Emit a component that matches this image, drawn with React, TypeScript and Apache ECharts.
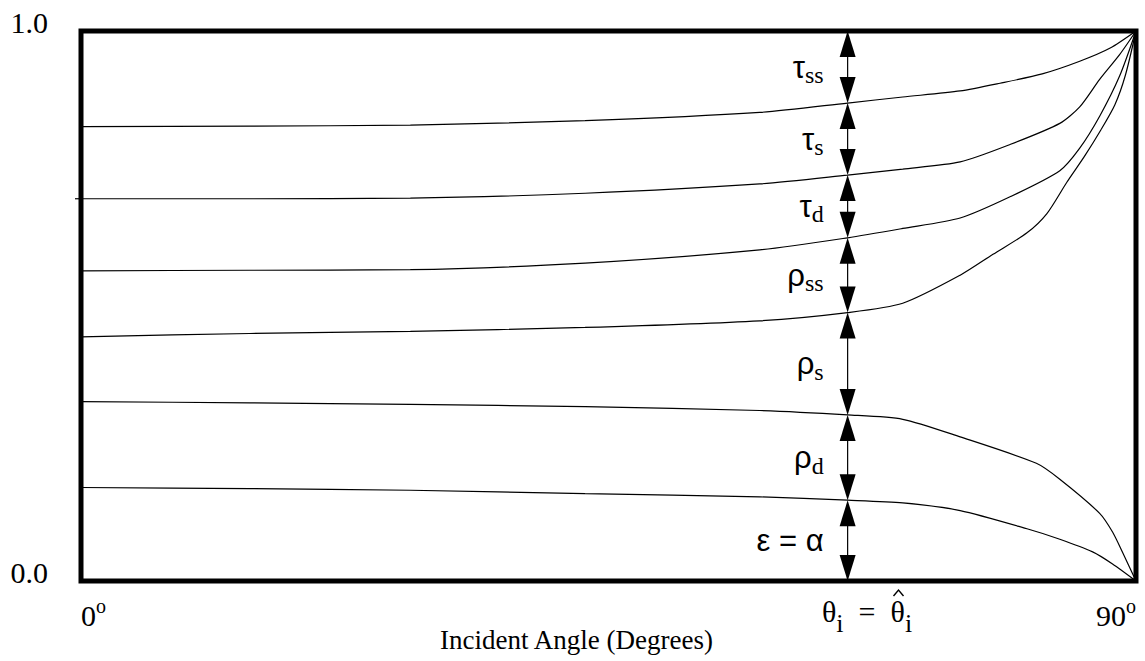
import React, { useEffect, useRef } from "react";
import * as echarts from "echarts";

// Boundary curves, [incident angle (deg), fraction]
const lineTauSS = [[0, 0.826], [14.4, 0.827], [28.1, 0.829], [43.0, 0.837], [57.9, 0.852], [65.4, 0.869], [70.1, 0.880], [75.0, 0.891], [78.4, 0.905], [82.0, 0.922], [85.2, 0.945], [87.8, 0.969], [90, 1]];
const lineTauS = [[0, 0.695], [14.4, 0.695], [28.1, 0.696], [43.0, 0.705], [57.9, 0.722], [65.4, 0.738], [70.1, 0.749], [75.0, 0.762], [79.3, 0.794], [83.5, 0.832], [85.2, 0.862], [86.9, 0.912], [88.6, 0.957], [90, 1]];
const lineTauD = [[0, 0.564], [14.4, 0.565], [28.1, 0.566], [43.0, 0.578], [57.9, 0.602], [65.4, 0.624], [70.1, 0.641], [75.0, 0.660], [79.3, 0.699], [83.5, 0.746], [85.2, 0.787], [86.9, 0.845], [88.6, 0.918], [90, 1]];
const lineRhoSS = [[0, 0.444], [14.4, 0.450], [28.1, 0.454], [43.0, 0.461], [57.9, 0.473], [65.4, 0.488], [70.1, 0.505], [75.0, 0.556], [77.8, 0.594], [80.7, 0.633], [82.4, 0.668], [84.1, 0.725], [85.6, 0.772], [87.0, 0.820], [88.2, 0.866], [89.1, 0.920], [90, 1]];
const lineRhoS = [[0, 0.326], [14.4, 0.324], [28.1, 0.321], [43.0, 0.317], [57.9, 0.310], [65.4, 0.302], [70.1, 0.294], [75.0, 0.262], [81.5, 0.214], [83.5, 0.185], [86.9, 0.123], [88.0, 0.089], [88.9, 0.050], [90, 0]];
const lineRhoD = [[0, 0.170], [14.4, 0.168], [28.1, 0.165], [43.0, 0.159], [57.9, 0.153], [65.4, 0.147], [70.1, 0.142], [75.0, 0.128], [80.7, 0.095], [83.5, 0.076], [86.3, 0.053], [88.0, 0.031], [90, 0]];

const curves = [lineTauSS, lineTauS, lineTauD, lineRhoSS, lineRhoS, lineRhoD];

// Arrow column
const arrowAngle = 65.4;
const bandEdges = [1, 0.869, 0.738, 0.624, 0.488, 0.302, 0.147, 0];
const bandLabels = [
  "{m|τ}{s|ss}",
  "{m|τ}{s|s}",
  "{m|τ}{s|d}",
  "{m|ρ}{s|ss}",
  "{m|ρ}{s|s}",
  "{m|ρ}{s|d}",
  "{m|ε = α}",
];

const yTicks = [0, 1];
const xTicks = [0, 90];
const strayTickValue = 0.695;

const SERIF = "'Liberation Serif', 'Times New Roman', serif";
const SANS = "'Liberation Sans', Arial, sans-serif";

export default function App() {
  const ref = useRef<HTMLDivElement>(null);
  useEffect(() => {
    document.body.style.margin = "0";
    document.body.style.overflow = "hidden";
    const chart = echarts.init(ref.current!, null, { renderer: "svg" });
    const bandData = bandLabels.map((_, i) => [arrowAngle, bandEdges[i], bandEdges[i + 1], i]);
    const labelRich = {
      m: { fontFamily: SANS, fontSize: 31, color: "#000" },
      s: { fontFamily: SERIF, fontSize: 24, color: "#000", padding: [16, 0, 0, 0] },
    };
    chart.setOption({
      animation: false,
      backgroundColor: "#fff",
      grid: {
        left: 81,
        top: 31,
        right: 9,
        bottom: 80,
        show: true,
        borderWidth: 5,
        borderColor: "#000",
        backgroundColor: "transparent",
      },
      xAxis: {
        type: "value",
        min: xTicks[0],
        max: xTicks[1],
        interval: xTicks[1] - xTicks[0],
        axisLine: { show: false },
        axisTick: { show: false },
        splitLine: { show: false },
        axisLabel: {
          margin: 15,
          alignMinLabel: "left",
          alignMaxLabel: "right",
          formatter: (v: number) => `{n|${v}}{s|o}`,
          rich: {
            n: { fontFamily: SERIF, fontSize: 30, color: "#000" },
            s: { fontFamily: SERIF, fontSize: 20, color: "#000", padding: [0, 0, 18, 0] },
          },
        },
      },
      yAxis: {
        type: "value",
        min: yTicks[0],
        max: yTicks[1],
        interval: 1,
        axisLine: { show: false },
        axisTick: { show: false },
        splitLine: { show: false },
        axisLabel: {
          margin: 33,
          fontFamily: SERIF,
          fontSize: 30,
          color: "#000",
          verticalAlign: "bottom",
          lineHeight: 18,
          formatter: (v: number) => v.toFixed(1),
        },
      },
      series: [
        ...curves.map((c) => ({
          type: "line",
          data: c,
          showSymbol: false,
          smooth: 0.25,
          lineStyle: { color: "#000", width: 1.2 },
          silent: true,
        })),
        {
          type: "custom",
          data: bandData,
          silent: true,
          z: 5,
          renderItem: (params: any, api: any) => {
            const x = api.value(0);
            const hi = api.value(1);
            const lo = api.value(2);
            const idx = api.value(3);
            const top = api.coord([x, hi]);
            const bot = api.coord([x, lo]);
            const AH = 26;
            const AW = 8;
            return {
              type: "group",
              children: [
                {
                  type: "line",
                  shape: { x1: top[0], y1: top[1] + AH - 2, x2: bot[0], y2: bot[1] - AH + 2 },
                  style: { stroke: "#000", lineWidth: 1.2 },
                },
                {
                  type: "polygon",
                  shape: { points: [[top[0], top[1]], [top[0] - AW, top[1] + AH], [top[0] + AW, top[1] + AH]] },
                  style: { fill: "#000" },
                },
                {
                  type: "polygon",
                  shape: { points: [[bot[0], bot[1]], [bot[0] - AW, bot[1] - AH], [bot[0] + AW, bot[1] - AH]] },
                  style: { fill: "#000" },
                },
                {
                  type: "text",
                  x: top[0] - 24,
                  y: (top[1] + bot[1]) / 2,
                  style: {
                    text: bandLabels[idx],
                    rich: labelRich,
                    align: "right",
                    verticalAlign: "middle",
                  },
                },
              ],
            };
          },
        },
      ],
    });
    const tickPt = chart.convertToPixel({ gridIndex: 0 }, [0, strayTickValue]) as number[];
    const thetaRich = {
      m: { fontFamily: SERIF, fontSize: 30, color: "#000" },
      s: { fontFamily: SERIF, fontSize: 26, color: "#000", padding: [24, 0, 0, 0] },
    };
    chart.setOption({
      graphic: [
        {
          type: "line",
          shape: { x1: tickPt[0] - 6, y1: tickPt[1], x2: tickPt[0], y2: tickPt[1] },
          style: { stroke: "#000", lineWidth: 1.2 },
        },
        {
          type: "text",
          left: 440,
          top: 626,
          style: { text: "Incident Angle (Degrees)", fontFamily: SERIF, fontSize: 27, fill: "#000" },
        },
        {
          type: "text",
          x: 822,
          y: 586,
          style: { text: "{m|θ}{s|i}{m|  =  }{m|θ}{s|i}", rich: thetaRich },
        },
        {
          type: "polyline",
          shape: { points: [[893.5, 596], [898.5, 590], [903.5, 596]] },
          style: { stroke: "#000", lineWidth: 1.4, fill: null },
        },
      ],
    });
    return () => chart.dispose();
  }, []);
  return <div ref={ref} style={{ width: 1145, height: 661 }} />;
}
